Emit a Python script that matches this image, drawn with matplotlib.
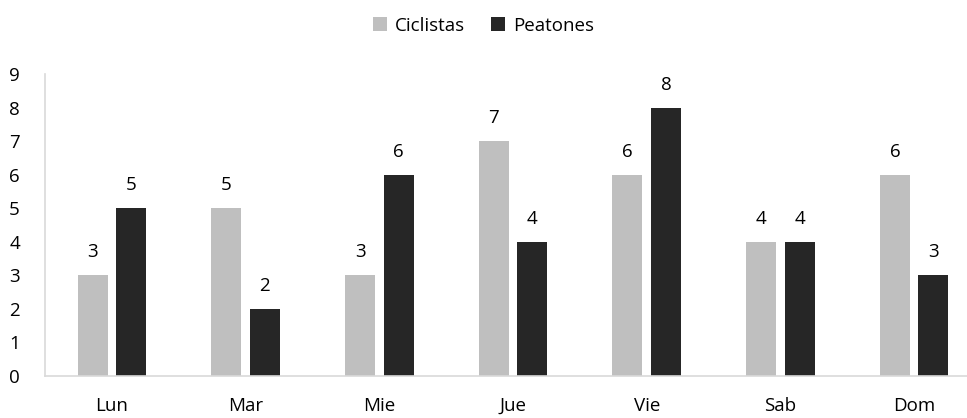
import numpy as np
import matplotlib.pyplot as plt

# --- Datos ---
dias = ["Lun", "Mar", "Mie", "Jue", "Vie", "Sab", "Dom"]
ciclistas = [3, 5, 3, 7, 6, 4, 6]
peatones = [5, 2, 6, 4, 8, 4, 3]

plt.rcParams['font.family'] = ['Open Sans', 'DejaVu Sans']

fig = plt.figure(figsize=(9.67, 4.18), dpi=100)
ax = fig.add_axes([45 / 967, 42 / 418, 936 / 967, 302 / 418])

x = np.arange(len(dias))
ancho = 0.224
desp = 0.144

b1 = ax.bar(x - desp, ciclistas, ancho, color="#bfbfbf", label="Ciclistas")
b2 = ax.bar(x + desp, peatones, ancho, color="#262626", label="Peatones")

for barras in (b1, b2):
    ax.bar_label(barras, padding=10, fontsize=13.5, color="#000000")

ax.set_xlim(-0.5, len(dias) - 0.5)
ax.set_ylim(0, 9)
ax.set_yticks(range(0, 10))
ax.set_xticks(x)
ax.set_xticklabels(dias)

for s in ["top", "right"]:
    ax.spines[s].set_visible(False)
ax.spines["left"].set_color("#d9d9d9")
ax.spines["bottom"].set_color("#d9d9d9")
ax.spines["left"].set_linewidth(1.2)
ax.spines["bottom"].set_linewidth(1.2)

ax.tick_params(axis="both", length=0, labelsize=13.5, colors="#000000")
ax.tick_params(axis="y", pad=18)
ax.tick_params(axis="x", pad=15)

fig.legend(loc="upper center", bbox_to_anchor=(0.5, 1.0), ncol=2, frameon=False,
           fontsize=13.5, handlelength=0.75, handleheight=0.75, handletextpad=0.4,
           columnspacing=1.4)

fig.savefig("out.png", dpi=100)
